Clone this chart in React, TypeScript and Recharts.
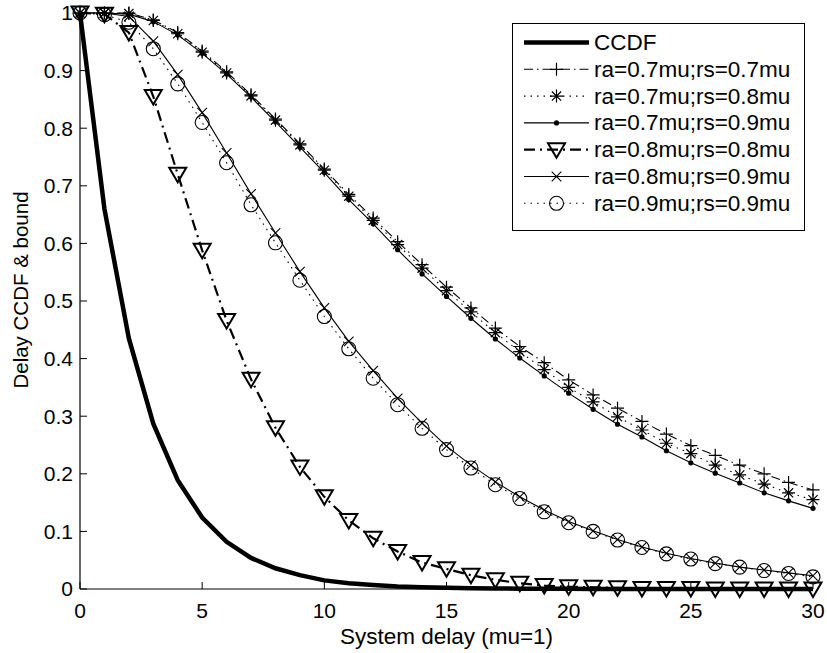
import { Legend, Line, LineChart, XAxis, YAxis } from "recharts";

const FONT = '"Liberation Sans", Arial, sans-serif';

const delays = [
  0, 1, 2, 3, 4, 5, 6, 7, 8, 9, 10, 11, 12, 13, 14, 15, 16, 17, 18, 19, 20,
  21, 22, 23, 24, 25, 26, 27, 28, 29, 30,
];

const ccdf = [
  1, 0.66, 0.435, 0.287, 0.189, 0.124, 0.082, 0.054, 0.036, 0.024, 0.015,
  0.01, 0.007, 0.0045, 0.003, 0.002, 0.0013, 0.0009, 0.0006, 0.0004, 0.0003,
  0.0002, 0.0001, 0.0001, 0, 0, 0, 0, 0, 0, 0,
];
const ra07rs07 = [
  1, 1, 1, 0.988, 0.966, 0.934, 0.898, 0.858, 0.816, 0.773, 0.729, 0.685,
  0.644, 0.603, 0.563, 0.524, 0.488, 0.453, 0.421, 0.393, 0.363, 0.337, 0.314,
  0.291, 0.269, 0.249, 0.232, 0.215, 0.2, 0.185, 0.172,
];
const ra07rs08 = [
  1, 1, 0.999, 0.987, 0.964, 0.932, 0.896, 0.856, 0.814, 0.771, 0.727, 0.682,
  0.64, 0.598, 0.557, 0.518, 0.481, 0.445, 0.412, 0.381, 0.35, 0.325, 0.299,
  0.276, 0.253, 0.235, 0.215, 0.198, 0.182, 0.167, 0.155,
];
const ra07rs09 = [
  1, 1, 0.998, 0.985, 0.962, 0.93, 0.894, 0.854, 0.811, 0.767, 0.723, 0.676,
  0.634, 0.589, 0.547, 0.508, 0.47, 0.434, 0.401, 0.37, 0.34, 0.312, 0.286,
  0.264, 0.24, 0.219, 0.201, 0.184, 0.167, 0.153, 0.14,
];
const ra08rs08 = [
  1, 0.998, 0.966, 0.855, 0.72, 0.588, 0.466, 0.364, 0.28, 0.212, 0.16, 0.119,
  0.088, 0.065, 0.046, 0.035, 0.024, 0.016, 0.01, 0.006, 0.004, 0.003, 0.002,
  0.001, 0.001, 0.001, 0, 0, 0, 0, 0,
];
const ra08rs09 = [
  1, 1, 0.994, 0.951, 0.893, 0.827, 0.757, 0.686, 0.618, 0.551, 0.488, 0.43,
  0.379, 0.331, 0.288, 0.248, 0.215, 0.186, 0.16, 0.137, 0.117, 0.101, 0.086,
  0.073, 0.062, 0.053, 0.045, 0.038, 0.033, 0.028, 0.023,
];
const ra09rs09 = [
  1, 0.997, 0.984, 0.938, 0.877, 0.81, 0.74, 0.667, 0.601, 0.536, 0.473, 0.417,
  0.366, 0.32, 0.279, 0.242, 0.21, 0.181, 0.157, 0.134, 0.115, 0.1, 0.085,
  0.072, 0.061, 0.052, 0.044, 0.038, 0.032, 0.027, 0.021,
];

const xTicks = [0, 5, 10, 15, 20, 25, 30];
const yTicks = [0, 0.1, 0.2, 0.3, 0.4, 0.5, 0.6, 0.7, 0.8, 0.9, 1];

type MarkerKind = "none" | "plus" | "star" | "dot" | "triangle" | "cross" | "circle";

const series: Array<{
  key: string;
  name: string;
  values: number[];
  width: number;
  dash?: string;
  marker: MarkerKind;
}> = [
  { key: "ccdf", name: "CCDF", values: ccdf, width: 4.5, marker: "none" },
  { key: "s1", name: "ra=0.7mu;rs=0.7mu", values: ra07rs07, width: 1.1, dash: "9 4 1.5 4", marker: "plus" },
  { key: "s2", name: "ra=0.7mu;rs=0.8mu", values: ra07rs08, width: 1.1, dash: "1.5 5", marker: "star" },
  { key: "s3", name: "ra=0.7mu;rs=0.9mu", values: ra07rs09, width: 1.1, marker: "dot" },
  { key: "s4", name: "ra=0.8mu;rs=0.8mu", values: ra08rs08, width: 2.2, dash: "11 5 2 5", marker: "triangle" },
  { key: "s5", name: "ra=0.8mu;rs=0.9mu", values: ra08rs09, width: 1.1, marker: "cross" },
  { key: "s6", name: "ra=0.9mu;rs=0.9mu", values: ra09rs09, width: 1.1, dash: "1.5 5", marker: "circle" },
];

const rows = delays.map((d, i) => {
  const row: Record<string, number> = { delay: d };
  series.forEach((s) => {
    row[s.key] = s.values[i];
  });
  return row;
});

function Marker({ kind, cx, cy }: { kind: MarkerKind; cx: number; cy: number }) {
  if (kind === "plus")
    return <path d={`M${cx - 6.5},${cy}H${cx + 6.5}M${cx},${cy - 6.5}V${cy + 6.5}`} stroke="#000" strokeWidth={1.2} fill="none" />;
  if (kind === "star")
    return (
      <path
        d={`M${cx - 6.5},${cy}H${cx + 6.5}M${cx},${cy - 6.5}V${cy + 6.5}M${cx - 4.6},${cy - 4.6}L${cx + 4.6},${cy + 4.6}M${cx - 4.6},${cy + 4.6}L${cx + 4.6},${cy - 4.6}`}
        stroke="#000"
        strokeWidth={1.2}
        fill="none"
      />
    );
  if (kind === "dot") return <circle cx={cx} cy={cy} r={2.6} fill="#000" />;
  if (kind === "triangle")
    return (
      <path
        d={`M${cx - 8.5},${cy - 6.5}L${cx + 8.5},${cy - 6.5}L${cx},${cy + 8}Z`}
        stroke="#000"
        strokeWidth={2}
        fill="none"
        strokeLinejoin="miter"
      />
    );
  if (kind === "cross")
    return <path d={`M${cx - 4.8},${cy - 4.8}L${cx + 4.8},${cy + 4.8}M${cx - 4.8},${cy + 4.8}L${cx + 4.8},${cy - 4.8}`} stroke="#000" strokeWidth={1.1} fill="none" />;
  if (kind === "circle") return <circle cx={cx} cy={cy} r={7} stroke="#000" strokeWidth={1.1} fill="none" />;
  return <g />;
}

function LegendBox() {
  const rowGap = 26.8;
  return (
    <div
      style={{
        width: 293,
        height: 208,
        boxSizing: "border-box",
        border: "1.5px solid #000",
        background: "#fff",
      }}
    >
      <svg width={290} height={205} style={{ display: "block" }}>
        {series.map((s, i) => {
          const y = 18.5 + i * rowGap;
          return (
            <g key={s.key}>
              <line x1={11} x2={76} y1={y} y2={y} stroke="#000" strokeWidth={s.width} strokeDasharray={s.dash} />
              <Marker kind={s.marker} cx={43.5} cy={y} />
              <text x={81} y={y} dominantBaseline="central" fontFamily={FONT} fontSize={22.5} fill="#000">
                {s.name}
              </text>
            </g>
          );
        })}
      </svg>
    </div>
  );
}

export default function App() {
  const tickStyle = { fill: "#000", fontSize: 21, fontFamily: FONT };
  return (
    <div style={{ width: 827, height: 653, background: "#fff" }}>
      <style>{"body{margin:0}"}</style>
      <LineChart
        width={827}
        height={653}
        data={rows}
        margin={{ top: 13, right: 14, bottom: 34, left: 20 }}
      >
        <XAxis
          dataKey="delay"
          type="number"
          domain={[0, 30]}
          ticks={xTicks}
          height={30}
          stroke="#000"
          tickSize={-7}
          tickMargin={21}
          tick={tickStyle}
          axisLine={{ stroke: "#000", strokeWidth: 1.2 }}
          label={{
            value: "System delay (mu=1)",
            position: "bottom",
            offset: 9,
            fill: "#000",
            fontSize: 22.5,
            fontFamily: FONT,
          }}
        />
        <XAxis
          xAxisId="top"
          orientation="top"
          type="number"
          domain={[0, 30]}
          allowDataOverflow
          ticks={xTicks}
          height={0}
          stroke="#000"
          tickSize={-7}
          tick={false}
          axisLine={{ stroke: "#000", strokeWidth: 1.2 }}
        />
        <YAxis
          type="number"
          domain={[0, 1]}
          ticks={yTicks}
          width={60}
          stroke="#000"
          tickSize={-7}
          tickMargin={14}
          tick={tickStyle}
          axisLine={{ stroke: "#000", strokeWidth: 1.2 }}
          label={() => (
            <text
              x={20}
              y={290}
              transform="rotate(-90 20 290)"
              textAnchor="middle"
              dominantBaseline="central"
              fontFamily={FONT}
              fontSize={20.5}
              fill="#000"
            >
              Delay CCDF &amp; bound
            </text>
          )}
        />
        <YAxis
          yAxisId="right"
          orientation="right"
          type="number"
          domain={[0, 1]}
          allowDataOverflow
          ticks={yTicks}
          width={0}
          stroke="#000"
          tickSize={-7}
          tick={false}
          axisLine={{ stroke: "#000", strokeWidth: 1.2 }}
        />
        {series.map((s) => (
          <Line
            key={s.key}
            dataKey={s.key}
            name={s.name}
            type="linear"
            stroke="#000"
            strokeWidth={s.width}
            strokeDasharray={s.dash}
            isAnimationActive={false}
            activeDot={false}
            dot={
              s.marker === "none"
                ? false
                : (p: any) => (
                    <Marker key={`${s.key}-${p.index}`} kind={s.marker} cx={p.cx} cy={p.cy} />
                  )
            }
          />
        ))}
        <Legend
          layout="vertical"
          align="center"
          verticalAlign="middle"
          wrapperStyle={{ left: 512, top: 23, width: 293, height: 208 }}
          content={() => <LegendBox />}
        />
      </LineChart>
    </div>
  );
}
